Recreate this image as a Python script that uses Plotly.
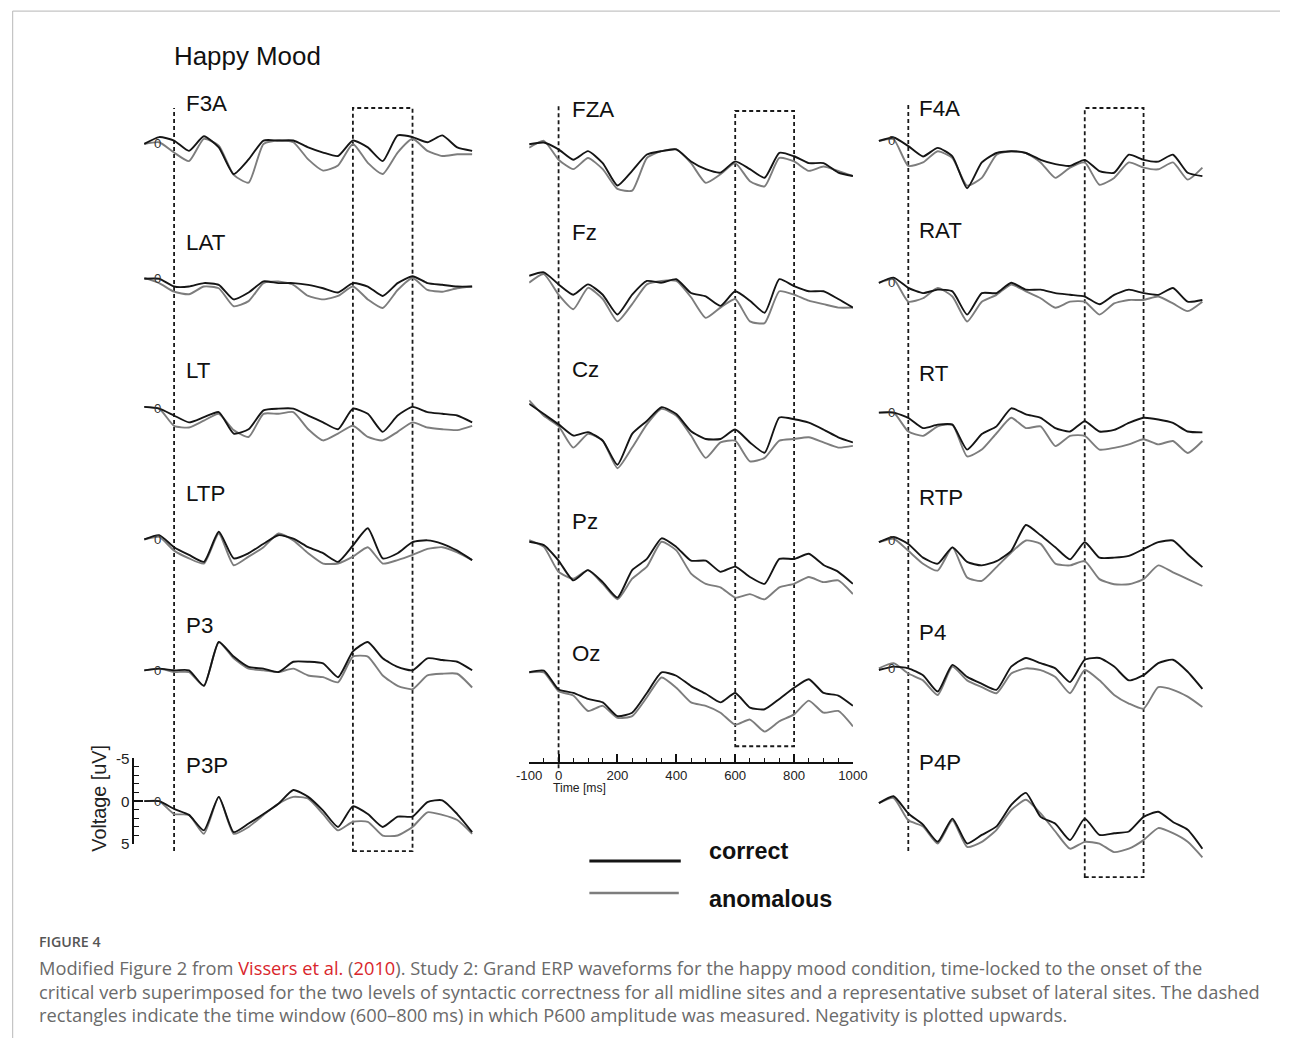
import plotly.graph_objects as go

W, H = 1291, 1046          # target picture size
PAGE_MARGIN = 8            # default page margin around the figure
S = 0.9845                 # observed capture scale (page -> picture)
FW, FH = W / S - 2 * PAGE_MARGIN, H / S - 2 * PAGE_MARGIN

# ---------------- data (microvolts, negativity plotted upwards) ----------------
T = [-100, -50, 0, 50, 100, 150, 200, 250, 300, 350, 400, 450, 500,
     550, 600, 650, 700, 750, 800, 850, 900, 950, 1000]

F3A_c = [0, -0.8, -0.4, 0.8, -0.9, 0.4, 3.5, 1.8, -0.4, -0.4, -0.4, 0.4, 1.0, 1.4, -0.4, 0.4, 2.0, -1.0, -0.8, -0.2, -1.0, 0.4, 0.8]
F3A_a = [0, -0.2, 1.0, 2.0, -0.6, 0.2, 3.6, 4.5, 0, -0.4, -0.2, 1.8, 3.1, 2.5, 0, 2.2, 3.5, 1.0, -0.6, 0.8, 1.4, 1.2, 1.2]
LAT_c = [0, 0, 0.9, 0.9, 0.5, 0.7, 2.4, 1.6, 0.3, 0.5, 0.5, 0.7, 1.1, 1.6, 0.5, 0.9, 2.0, 0.5, -0.3, 0.5, 0.7, 0.9, 0.9]
LAT_a = [-0.1, 0.5, 1.5, 1.8, 0.9, 1.1, 3.2, 2.6, 0.5, 0.3, 0.7, 2.0, 2.4, 2.0, 0.9, 2.4, 3.4, 1.3, -0.1, 1.3, 1.5, 1.1, 0.9]
LT_c = [-0.2, 0, 0.8, 1.6, 1.0, 0.4, 2.9, 2.4, 0.2, 0, 0, 0.8, 1.6, 2.4, 0, 0.6, 2.7, 0.8, -0.2, 0.4, 0.6, 0.8, 1.6]
LT_a = [-0.2, 0, 2.0, 2.2, 1.4, 0.6, 2.5, 3.3, 0.6, 0.6, 0.4, 2.4, 3.7, 2.9, 2.0, 3.3, 3.7, 2.7, 1.6, 2.2, 2.4, 2.5, 2.0]
LTP_c = [0, -0.5, 0.9, 1.8, 2.6, -0.9, 2.2, 1.6, 0.5, -0.5, -0.1, 0.9, 1.6, 2.6, 0.7, -1.3, 2.2, 1.6, 0.3, 0.1, 0.5, 1.3, 2.4]
LTP_a = [0, -0.3, 1.3, 2.2, 2.8, -0.7, 3.0, 2.0, 0.9, -0.7, 0.1, 1.6, 2.8, 2.8, 2.0, 0.9, 2.8, 2.4, 1.8, 1.1, 0.9, 1.5, 2.4]
P3_c = [0, -0.2, 0, 0, 1.8, -3.3, -1.6, -0.4, -0.2, 0.2, -1.0, -1.0, -0.8, 0.8, -2.2, -3.3, -1.4, -0.4, 0, -1.4, -1.2, -1.0, 0]
P3_a = [0, -0.2, 0.2, 0.2, 1.8, -3.3, -1.4, -0.2, 0, 0.2, -0.2, 0.6, 0.8, 1.4, -1.6, -1.6, 0.6, 1.8, 2.2, 0.6, 0.4, 0.4, 2.0]
P3P_c = [0, 0, 0.9, 1.6, 3.4, -0.5, 3.6, 2.6, 1.5, 0.3, -1.3, -0.5, 1.1, 3.0, 0.6, 1.5, 3.0, 1.8, 1.8, 0.1, -0.1, 1.5, 3.6]
P3P_a = [0, 0, 1.5, 1.6, 3.8, -0.5, 3.8, 3.0, 1.6, 0.3, -0.5, -0.3, 1.5, 3.4, 2.4, 2.4, 4.0, 4.0, 3.0, 1.3, 1.6, 2.2, 3.8]

FZA_c = [-0.2, -0.4, 0.4, 1.6, 0.6, 2.0, 4.6, 2.9, 1.0, 0.6, 0.4, 1.8, 2.7, 3.1, 1.8, 2.7, 3.7, 0.8, 1.2, 2.0, 2.0, 3.1, 3.5]
FZA_a = [0.2, -0.6, 1.6, 2.7, 1.4, 2.7, 5.0, 5.2, 1.4, 0.6, 0.4, 2.0, 4.3, 3.3, 2.0, 4.1, 4.7, 1.4, 1.8, 2.9, 2.4, 2.9, 3.5]
Fz_c = [0, -0.4, 1.0, 2.2, 1.0, 2.2, 4.5, 2.2, 0.6, 0.8, 0.4, 2.0, 2.4, 3.5, 1.8, 2.9, 4.3, 0.4, 1.2, 1.8, 1.8, 2.7, 3.7]
Fz_a = [0.8, -0.2, 2.2, 3.9, 1.4, 2.7, 5.3, 3.3, 1.0, 0.6, 0.6, 2.5, 4.9, 3.7, 2.7, 5.3, 5.5, 1.8, 2.2, 2.9, 3.3, 3.7, 3.7]
Cz_c = [-0.8, 0.4, 1.6, 2.9, 2.5, 3.5, 6.3, 2.7, 1.2, -0.4, 0.4, 2.4, 3.3, 3.3, 2.2, 3.7, 4.9, 0.8, 1.0, 1.4, 2.2, 3.1, 3.7]
Cz_a = [-1.2, 0.6, 1.8, 4.3, 2.7, 3.5, 6.7, 4.3, 1.6, -0.2, 0.6, 2.9, 5.5, 3.7, 3.5, 5.9, 5.5, 3.5, 3.3, 3.1, 3.7, 4.3, 4.1]
Pz_c = [-0.2, 0.2, 2.0, 4.3, 3.1, 4.5, 6.3, 3.1, 1.8, -0.6, 0.4, 2.0, 2.0, 3.3, 2.7, 3.9, 4.7, 1.8, 1.8, 1.2, 2.5, 3.3, 4.7]
Pz_a = [-0.4, 0.4, 3.3, 4.1, 3.1, 4.7, 6.5, 4.1, 2.7, -0.2, 0.8, 3.5, 4.7, 5.1, 6.3, 5.9, 6.5, 5.1, 4.7, 3.9, 4.5, 4.3, 5.9]
Oz_c = [0, -0.2, 2.0, 2.4, 3.1, 3.5, 5.1, 4.7, 2.4, 0, 0.4, 1.6, 2.5, 3.5, 2.4, 4.1, 4.3, 3.1, 1.8, 0.8, 2.4, 2.7, 3.9]
Oz_a = [0, 0, 2.2, 2.7, 4.5, 3.9, 5.3, 5.1, 2.9, 0.6, 1.8, 3.5, 3.9, 4.7, 6.1, 5.5, 6.9, 5.7, 4.9, 3.3, 4.7, 4.5, 6.3]

F4A_c = [0, -0.4, 0.6, 1.8, 0.8, 1.8, 5.5, 2.5, 1.4, 1.2, 1.4, 2.2, 2.7, 2.9, 2.2, 3.5, 3.7, 1.6, 2.2, 2.4, 1.6, 3.7, 4.1]
F4A_a = [0, -0.2, 2.9, 2.5, 1.2, 2.0, 5.2, 4.3, 1.6, 1.2, 1.4, 2.5, 4.3, 3.1, 2.5, 5.1, 4.3, 2.5, 3.1, 3.3, 2.5, 4.5, 3.1]
RAT_c = [0, -0.6, 0.6, 1.2, 0.8, 1.0, 3.7, 1.2, 1.2, 0, 0.8, 0.8, 1.2, 1.4, 1.6, 2.5, 1.4, 0.8, 1.2, 1.4, 0.6, 2.2, 2.0]
RAT_a = [0, -0.4, 2.2, 1.8, 0.6, 1.6, 4.5, 2.2, 1.4, 0.2, 1.0, 1.8, 2.9, 2.2, 2.2, 3.7, 2.4, 2.0, 2.0, 1.6, 2.4, 3.3, 2.2]
RT_c = [0, 0, 0.6, 1.8, 1.4, 1.4, 4.3, 2.5, 1.6, -0.5, 0.2, 0.6, 1.8, 2.2, 1.0, 2.2, 2.0, 1.2, 0.6, 0.8, 1.2, 2.2, 2.3]
RT_a = [0, 0, 2.2, 2.7, 1.6, 1.4, 5.1, 4.3, 2.4, 0.6, 1.8, 1.6, 3.9, 2.7, 2.7, 4.3, 4.1, 3.7, 3.1, 3.7, 3.3, 4.7, 3.3]
RTP_c = [0.2, -0.4, 0.4, 2.0, 2.7, 0.8, 2.5, 2.9, 2.4, 1.2, -1.8, -0.6, 0.8, 2.2, 0.2, 2.0, 2.0, 1.8, 1.0, 0.2, 0, 1.6, 3.1]
RTP_a = [0.2, -0.2, 1.2, 2.7, 3.5, 0.8, 4.3, 4.7, 3.1, 1.4, 0, 0.4, 2.7, 2.9, 2.4, 4.5, 5.1, 5.1, 4.5, 2.9, 3.7, 4.5, 5.3]
P4_c = [0.2, -0.2, 0, 0.8, 2.7, -0.4, 1.0, 1.8, 2.5, -0.2, -1.2, -0.6, 0, 1.6, -1.0, -1.2, -0.2, 1.4, 0.8, -0.6, -1.0, 0.4, 2.4]
P4_a = [0, -0.6, 0.6, 1.4, 3.1, -0.2, 1.4, 2.2, 2.9, 0.6, 0, 0.2, 1.0, 2.9, 0.2, 1.4, 3.1, 4.1, 4.7, 2.2, 2.5, 3.3, 4.5]
P4P_c = [0, -0.8, 1.2, 2.5, 4.5, 1.8, 4.7, 3.7, 2.7, 0.2, -1.2, 1.6, 2.4, 4.3, 1.8, 3.7, 3.5, 3.3, 1.6, 1.0, 2.2, 3.1, 5.3]
P4P_a = [0, -0.6, 2.0, 2.7, 4.7, 2.0, 5.1, 4.5, 3.1, 0.8, -0.4, 1.2, 3.3, 5.3, 4.5, 4.7, 5.7, 5.3, 4.3, 2.9, 3.5, 4.5, 6.3]

SERIES_NAMES = ["correct", "anomalous"]
ONSET_MS = 0
WINDOW_MS = [600, 800]
TIME_TICKS = [-100, 0, 200, 400, 600, 800, 1000]
VOLT_TICKS = [-5, 0, 5]

# ---------------- layout helpers (picture pixels -> paper) ----------------
def PX(x):
    return (x / S - PAGE_MARGIN) / FW


def PY(y):
    return 1 - (y / S - PAGE_MARGIN) / FH


def F(size):
    return size / S


UV = 8.6  # picture pixels per microvolt
FONT = "Arial, 'Liberation Sans', sans-serif"
BLACK = "#151515"
GRAY = "#7d7d7d"

COLS = {
    "L": dict(x0=170, pxms=0.300, left=130, right=472, vtop=107, vbot=851, btop=107, bbot=851, lab=33),
    "M": dict(x0=557, pxms=0.2963, left=527.4, right=853.3, vtop=103, vbot=768, btop=110, bbot=746, lab=40),
    "R": dict(x0=909, pxms=0.296, left=872, right=1210, vtop=103, vbot=851, btop=107, bbot=877, lab=28),
}

# name, column, baseline(px), label y(px), correct, anomalous, zero-glyph
PANELS = [
    ("F3A", "L", 143, 102, F3A_c, F3A_a, True),
    ("LAT", "L", 278, 242, LAT_c, LAT_a, True),
    ("LT", "L", 408, 370, LT_c, LT_a, True),
    ("LTP", "L", 539, 493, LTP_c, LTP_a, True),
    ("P3", "L", 670, 625, P3_c, P3_a, True),
    ("P3P", "L", 801, 765, P3P_c, P3P_a, True),
    ("FZA", "M", 145, 108, FZA_c, FZA_a, False),
    ("Fz", "M", 275, 232, Fz_c, Fz_a, False),
    ("Cz", "M", 410, 369, Cz_c, Cz_a, False),
    ("Pz", "M", 543, 521, Pz_c, Pz_a, False),
    ("Oz", "M", 672, 653, Oz_c, Oz_a, False),
    ("F4A", "R", 140, 107, F4A_c, F4A_a, True),
    ("RAT", "R", 282, 230, RAT_c, RAT_a, True),
    ("RT", "R", 412, 373, RT_c, RT_a, True),
    ("RTP", "R", 540, 497, RTP_c, RTP_a, True),
    ("P4", "R", 668, 632, P4_c, P4_a, True),
    ("P4P", "R", 803, 762, P4P_c, P4P_a, False),
]

fig = go.Figure()
layout = {}
annotations = []
shapes = []
col_axis = {}

for i, (name, col, base, laby, cvals, avals, zero) in enumerate(PANELS, start=1):
    cx = COLS[col]
    xid = "x" if i == 1 else f"x{i}"
    yid = "y" if i == 1 else f"y{i}"
    xkey = "xaxis" if i == 1 else f"xaxis{i}"
    ykey = "yaxis" if i == 1 else f"yaxis{i}"
    col_axis.setdefault(col, xid)

    top, bot = base - 62, base + 62
    if name == "P3P":
        top, bot = base - 5 * UV, base + 5 * UV
    if name == "Oz":
        bot = 762
    xr = [(cx["left"] - cx["x0"]) / cx["pxms"], (cx["right"] - cx["x0"]) / cx["pxms"]]
    yr = [(bot - base) / UV, -(base - top) / UV]

    xa = dict(domain=[PX(cx["left"]), PX(cx["right"])], range=xr, anchor=yid,
              showgrid=False, zeroline=False, visible=False, fixedrange=True)
    ya = dict(domain=[PY(bot), PY(top)], range=yr, anchor=xid,
              showgrid=False, zeroline=False, visible=False, fixedrange=True)

    if name == "Oz":
        xa.update(visible=True, showline=True, linecolor="#111", linewidth=1.6,
                  ticks="inside", ticklen=F(8), tickwidth=1.6, tickcolor="#111",
                  tickvals=TIME_TICKS, ticktext=[str(v) for v in TIME_TICKS],
                  tickfont=dict(family=FONT, size=F(13), color="#222"),
                  showticklabels=True,
                  minor=dict(ticks="inside", dtick=50, tick0=0, ticklen=F(4),
                             tickwidth=1.3, tickcolor="#111"))
    if name == "P3P":
        ya.update(visible=True, showline=True, linecolor="#111", linewidth=1.6,
                  ticks="inside", ticklen=F(9), tickwidth=1.6, tickcolor="#111",
                  tickvals=VOLT_TICKS, ticktext=[str(v) for v in VOLT_TICKS],
                  tickfont=dict(family=FONT, size=F(15), color="#222"),
                  showticklabels=True,
                  minor=dict(ticks="inside", dtick=1, tick0=0, ticklen=F(5),
                             tickwidth=1.2, tickcolor="#111"))
    layout[xkey] = xa
    layout[ykey] = ya

    fig.add_trace(go.Scatter(x=T, y=avals, mode="lines", xaxis=xid, yaxis=yid,
                             line=dict(color=GRAY, width=1.9, shape="spline", smoothing=0.55),
                             name=SERIES_NAMES[1], showlegend=False, hoverinfo="skip"))
    fig.add_trace(go.Scatter(x=T, y=cvals, mode="lines", xaxis=xid, yaxis=yid,
                             line=dict(color=BLACK, width=1.9, shape="spline", smoothing=0.55),
                             name=SERIES_NAMES[0], showlegend=False, hoverinfo="skip"))

    # panel label
    annotations.append(dict(text=name, xref=xid, yref="paper", x=cx["lab"],
                            y=PY(laby), xanchor="left", yanchor="middle", showarrow=False,
                            font=dict(family=FONT, size=F(22), color="#111")))
    if zero:
        annotations.append(dict(text="0", xref=xid, yref=yid, x=-57, y=0,
                                xanchor="center", yanchor="middle", showarrow=False,
                                font=dict(family=FONT, size=F(13), color="#333")))

# dashed onset lines and analysis windows
DASH = dict(color="#1a1a1a", width=1.8, dash="4px,3px")
for col, cx in COLS.items():
    xid = col_axis[col]
    shapes.append(dict(type="line", xref=xid, yref="paper", x0=ONSET_MS, x1=ONSET_MS,
                       y0=PY(cx["vbot"]), y1=PY(cx["vtop"]), line=DASH, layer="below"))
    shapes.append(dict(type="rect", xref=xid, yref="paper", x0=WINDOW_MS[0], x1=WINDOW_MS[1],
                       y0=PY(cx["bbot"]), y1=PY(cx["btop"]), line=DASH,
                       fillcolor="rgba(0,0,0,0)", layer="below"))

# card border (top and left)
shapes.append(dict(type="line", xref="paper", yref="paper", x0=PX(7.5), x1=1, y0=PY(10), y1=PY(10),
                   line=dict(color="#c4c4c4", width=1.2)))
shapes.append(dict(type="line", xref="paper", yref="paper", x0=PX(7.5), x1=PX(7.5), y0=0, y1=PY(10),
                   line=dict(color="#c4c4c4", width=1.2)))

# legend (drawn manually)
shapes.append(dict(type="line", xref="paper", yref="paper", x0=PX(588), x1=PX(680),
                   y0=PY(861), y1=PY(861), line=dict(color=BLACK, width=3)))
shapes.append(dict(type="line", xref="paper", yref="paper", x0=PX(588), x1=PX(678),
                   y0=PY(893), y1=PY(893), line=dict(color=GRAY, width=2.6)))
annotations.append(dict(text="<b>correct</b>", xref="paper", yref="paper", x=PX(706), y=PY(851),
                        xanchor="left", yanchor="middle", showarrow=False,
                        font=dict(family=FONT, size=F(23), color="#111")))
annotations.append(dict(text="<b>anomalous</b>", xref="paper", yref="paper", x=PX(706), y=PY(899),
                        xanchor="left", yanchor="middle", showarrow=False,
                        font=dict(family=FONT, size=F(23), color="#111")))

# titles and axis labels
annotations.append(dict(text="Happy Mood", xref="paper", yref="paper", x=PX(168), y=PY(55),
                        xanchor="left", yanchor="middle", showarrow=False,
                        font=dict(family=FONT, size=F(25.5), color="#111")))
annotations.append(dict(text="Voltage [uV]", xref="paper", yref="paper", x=PX(95), y=PY(798),
                        xanchor="center", yanchor="middle", showarrow=False, textangle=-90,
                        font=dict(family=FONT, size=F(19.5), color="#222")))
annotations.append(dict(text="Time [ms]", xref="paper", yref="paper", x=PX(578), y=PY(788),
                        xanchor="center", yanchor="middle", showarrow=False,
                        font=dict(family=FONT, size=F(12), color="#222")))

# caption
RED = "#d9262c"
CAP = "'Open Sans', 'Noto Sans', sans-serif"
annotations.append(dict(text="FIGURE 4", xref="paper", yref="paper", x=PX(32), y=PY(942),
                        xanchor="left", yanchor="middle", showarrow=False,
                        font=dict(family=CAP, size=F(14), color="#555", weight=600)))
cap_lines = [
    f"Modified Figure 2 from <span style='color:{RED}'>Vissers et al.</span> (<span style='color:{RED}'>2010</span>). "
    "Study 2: Grand ERP waveforms for the happy mood condition, time-locked to the onset of the",
    "critical verb superimposed for the two levels of syntactic correctness for all midline sites and a "
    "representative subset of lateral sites. The dashed",
    "rectangles indicate the time window (600\u2013800 ms) in which P600 amplitude was measured. "
    "Negativity is plotted upwards.",
]
for k, line in enumerate(cap_lines):
    annotations.append(dict(text=line, xref="paper", yref="paper", x=PX(32), y=PY(968 + 23.5 * k),
                            xanchor="left", yanchor="middle", showarrow=False,
                            font=dict(family=CAP, size=F(18), color="#6a6a6a")))

fig.update_layout(
    width=round(FW), height=round(FH), autosize=False,
    margin=dict(l=0, r=0, t=0, b=0),
    paper_bgcolor="white", plot_bgcolor="rgba(0,0,0,0)",
    showlegend=False,
    annotations=annotations,
    shapes=shapes,
    **layout,
)

fig.write_html("out.html")
